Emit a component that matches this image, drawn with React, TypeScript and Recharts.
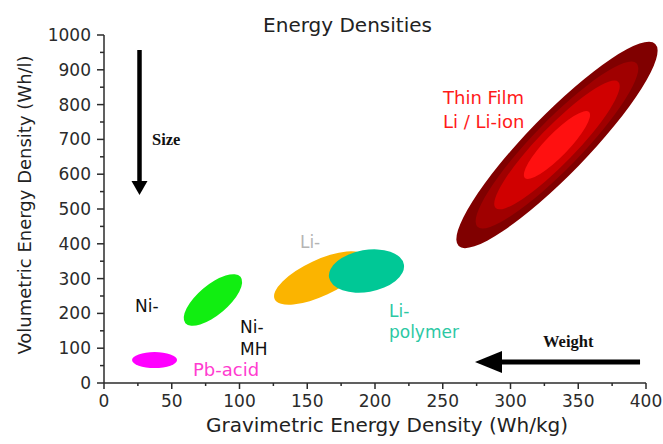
import React from 'react'
import { Scatter, ScatterChart, XAxis, YAxis } from 'recharts'

// battery families, placed by the centre of their region
const CHEMISTRIES = ['Pb-acid', 'Ni-MH', 'Li-ion', 'Li-polymer', 'Thin Film Li / Li-ion']
const GRAVIMETRIC = [37.3, 80.4, 159.4, 193.7, 334.3] // Wh/kg
const VOLUMETRIC = [66, 238.5, 301.7, 321.8, 684] // Wh/l

const X_TICKS = [0, 25, 50, 75, 100, 125, 150, 175, 200, 225, 250, 275, 300, 325, 350, 375, 400]
const Y_TICKS = [0, 50, 100, 150, 200, 250, 300, 350, 400, 450, 500, 550, 600, 650, 700, 750, 800, 850, 900, 950, 1000]

const W = 663
const H = 444
const PLOT = { left: 104, top: 35, width: 542, height: 348 }
const X_MAX = 400
const Y_MAX = 1000
const SANS = '"DejaVu Sans", sans-serif'
const SERIF = '"Liberation Serif", serif'
const AXIS = '#2b2b2b'

// region outlines in pixels: the blobs are drawn, not scaled per unit
const SHAPES: Record<string, { angle: number; layers: { rx: number; ry: number; fill: string }[] }> = {
  'Pb-acid': { angle: 0, layers: [{ rx: 22.5, ry: 8, fill: '#ff00ff' }] },
  'Ni-MH': { angle: -40, layers: [{ rx: 36, ry: 15, fill: '#11ee11' }] },
  'Li-ion': { angle: -25, layers: [{ rx: 50, ry: 18, fill: '#fbb400' }] },
  'Li-polymer': { angle: -10, layers: [{ rx: 38, ry: 21, fill: '#00c896' }] },
  'Thin Film Li / Li-ion': {
    angle: -45.8,
    layers: [
      { rx: 141, ry: 30, fill: '#800000' },
      { rx: 114, ry: 24, fill: '#a00000' },
      { rx: 88, ry: 18.5, fill: '#d00000' },
      { rx: 46, ry: 11.5, fill: '#ff1010' },
    ],
  },
}

const data = CHEMISTRIES.map((name, i) => ({ name, x: GRAVIMETRIC[i], y: VOLUMETRIC[i] }))

const sx = (v: number) => PLOT.left + (v / X_MAX) * PLOT.width
const sy = (v: number) => PLOT.top + (1 - v / Y_MAX) * PLOT.height

function Region(p: any) {
  const s = SHAPES[p.payload.name]
  if (!s) return null
  return (
    <g>
      {s.layers.map((l, i) => (
        <ellipse
          key={i}
          cx={p.cx}
          cy={p.cy}
          rx={l.rx}
          ry={l.ry}
          fill={l.fill}
          transform={`rotate(${s.angle} ${p.cx} ${p.cy})`}
        />
      ))}
    </g>
  )
}

function YTick({ x, y, payload }: any) {
  const major = payload.value % 100 === 0
  return (
    <g>
      <line x1={x} x2={x - (major ? 7 : 4)} y1={y} y2={y} stroke={AXIS} strokeWidth={1.5} />
      {major && (
        <text x={x - 13} y={y + 6} textAnchor="end" fontSize={17} fontFamily={SANS} fill={AXIS}>
          {payload.value}
        </text>
      )}
    </g>
  )
}

function XTick({ x, y, payload }: any) {
  const major = payload.value % 50 === 0
  return (
    <g>
      <line x1={x} x2={x} y1={y} y2={y + (major ? 6 : 3)} stroke={AXIS} strokeWidth={1.5} />
      {major && (
        <text x={x} y={y + 24} textAnchor="middle" fontSize={17} fontFamily={SANS} fill={AXIS}>
          {payload.value}
        </text>
      )}
    </g>
  )
}

// labels and the two trend arrows, placed in data units
const LABELS = [
  { text: 'Thin Film', x: 250.2, y: 801.7, color: '#ff1a1a', size: 18 },
  { text: 'Li / Li-ion', x: 250.2, y: 732.8, color: '#ff1a1a', size: 18 },
  { text: 'Li-', x: 144.6, y: 388, color: '#b4b4b4', size: 17 },
  { text: 'Li-', x: 210.3, y: 189.7, color: '#2cc8a4', size: 17 },
  { text: 'polymer', x: 210.3, y: 129.3, color: '#2cc8a4', size: 17 },
  { text: 'Ni-', x: 22.9, y: 204, color: '#111', size: 17 },
  { text: 'Ni-', x: 100.4, y: 143.7, color: '#111', size: 17 },
  { text: 'MH', x: 100.4, y: 80.5, color: '#111', size: 17 },
  { text: 'Pb-acid', x: 65.7, y: 20.1, color: '#ff3cd0', size: 18 },
]

function Overlay() {
  const sizeX = sx(26.2)
  const sizeTop = sy(957)
  const sizeTip = sy(540)
  const wY = sy(60)
  const wStart = sx(395.6)
  const wTip = sx(273.8)
  return (
    <svg width={W} height={H} style={{ position: 'absolute', left: 0, top: 0, pointerEvents: 'none' }}>
      <text x={347.5} y={32} textAnchor="middle" fontSize={20} fontFamily={SANS} fill="#222">
        Energy Densities
      </text>
      <text x={387} y={432} textAnchor="middle" fontSize={20} fontFamily={SANS} fill="#222">
        Gravimetric Energy Density (Wh/kg)
      </text>
      <text
        x={0}
        y={0}
        transform={`translate(31 205) rotate(-90)`}
        textAnchor="middle"
        fontSize={18}
        fontFamily={SANS}
        fill="#222"
      >
        Volumetric Energy Density (Wh/l)
      </text>
      {LABELS.map((l, i) => (
        <text key={i} x={sx(l.x)} y={sy(l.y)} fontSize={l.size} fontFamily={SANS} fill={l.color}>
          {l.text}
        </text>
      ))}
      {/* size: down arrow */}
      <line x1={sizeX} x2={sizeX} y1={sizeTop} y2={sizeTip - 12} stroke="#000" strokeWidth={4.5} />
      <polygon
        points={`${sizeX - 8},${sizeTip - 14} ${sizeX + 8},${sizeTip - 14} ${sizeX},${sizeTip}`}
        fill="#000"
      />
      <text x={sx(35.4)} y={sy(684)} fontSize={16.5} fontWeight="bold" fontFamily={SERIF} fill="#111">
        Size
      </text>
      {/* weight: left arrow */}
      <line x1={wStart} x2={wTip + 25} y1={wY} y2={wY} stroke="#000" strokeWidth={5} />
      <polygon
        points={`${wTip + 27},${wY - 11} ${wTip + 27},${wY + 11} ${wTip},${wY}`}
        fill="#000"
      />
      <text x={sx(324)} y={sy(103.4)} fontSize={16.5} fontWeight="bold" fontFamily={SERIF} fill="#111">
        Weight
      </text>
    </svg>
  )
}

export default function App() {
  return (
    <div style={{ position: 'absolute', left: 0, top: 0, width: W, height: H, background: '#fff' }}>
      <ScatterChart
        width={W}
        height={H}
        margin={{ top: PLOT.top, right: W - PLOT.left - PLOT.width, bottom: 21, left: PLOT.left - 60 }}
      >
        <XAxis
          type="number"
          dataKey="x"
          domain={[0, X_MAX]}
          ticks={X_TICKS}
          interval={0}
          height={40}
          tickSize={0}
          tickMargin={0}
          tickLine={false}
          tick={<XTick />}
          axisLine={{ stroke: AXIS, strokeWidth: 1.5 }}
        />
        <YAxis
          type="number"
          dataKey="y"
          domain={[0, Y_MAX]}
          ticks={Y_TICKS}
          interval={0}
          width={60}
          tickSize={0}
          tickMargin={0}
          tickLine={false}
          tick={<YTick />}
          axisLine={{ stroke: AXIS, strokeWidth: 1.5 }}
        />
        <Scatter data={data} shape={Region} isAnimationActive={false} />
      </ScatterChart>
      <Overlay />
    </div>
  )
}
